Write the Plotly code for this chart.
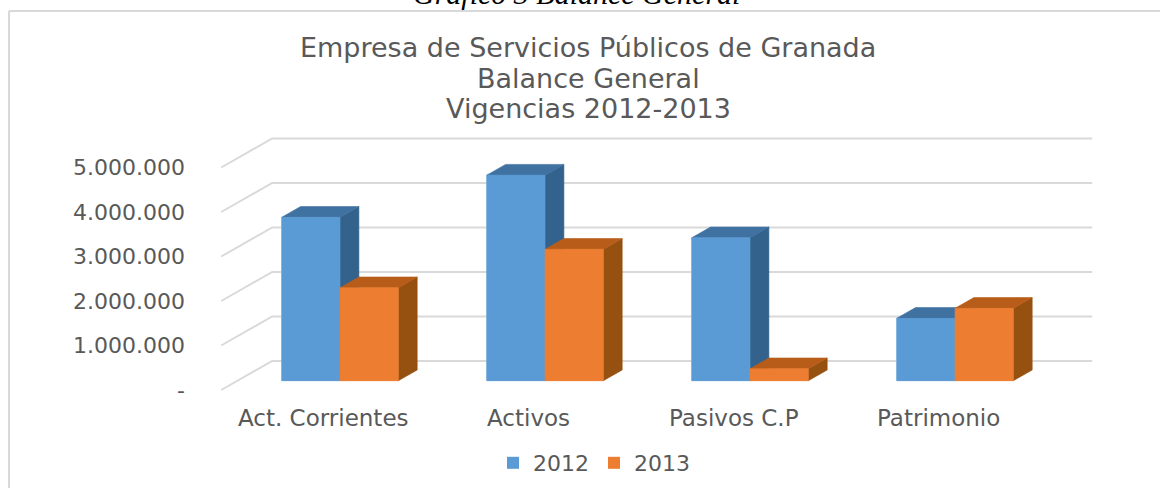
import plotly.graph_objects as go

# ---------------- data ----------------
categories = ["Act. Corrientes", "Activos", "Pasivos C.P", "Patrimonio"]
series_names = ["2012", "2013"]
values_2012 = [3672000, 4620000, 3213000, 1402000]
values_2013 = [2090000, 2953000, 270000, 1627000]
tick_values = [0, 1000000, 2000000, 3000000, 4000000, 5000000]
tick_labels = ["-", "1.000.000", "2.000.000", "3.000.000", "4.000.000", "5.000.000"]
title_lines = ["Empresa de Servicios Públicos de Granada", "Balance General", "Vigencias 2012-2013"]
caption = "Gráfico 3 Balance General"

# ---------------- geometry / style ----------------
W, H = 1160, 488
OFF = 0                # page body margin is removed by the post script below


def fx(px):            # page pixel x -> paper fraction
    return (px - OFF) / W


def fy(py):            # page pixel y -> paper fraction
    return 1 - (py - OFF) / H


PX_PER_CAT = 205.0
PX_PER_UNIT = 44.5e-6
X0_PX = 323.7 - OFF    # figure pixel of category 0 on the front plane
Y0_PX = 390.0 - OFF    # figure pixel of value 0 on the front plane
x_range = [(0 - X0_PX) / PX_PER_CAT, (W - X0_PX) / PX_PER_CAT]
y_range = [(Y0_PX - H) / PX_PER_UNIT, (Y0_PX - 0) / PX_PER_UNIT]

DEPTH_DX = 51 / PX_PER_CAT      # full floor depth, in data units
DEPTH_DY = 29 / PX_PER_UNIT
D_FRONT, D_BACK = 0.32, 0.69
BAR_W = 58.3 / PX_PER_CAT
FLOOR_L, FLOOR_R = -0.5, len(categories) - 0.5

COLORS = {
    "2012": {"front": "#5B9BD5", "top": "#3F71A1", "side": "#33628C"},
    "2013": {"front": "#ED7D31", "top": "#B85D19", "side": "#96500F"},
}
GRID = "#D9D9D9"
TEXT = "#595959"
FONT = "DejaVu Sans"


def proj(x, v, d):
    return x + d * DEPTH_DX, v + d * DEPTH_DY


def poly(points):
    xs, ys = [], []
    for (x, v, d) in points:
        px, py = proj(x, v, d)
        xs.append(px)
        ys.append(py)
    xs.append(xs[0])
    ys.append(ys[0])
    return xs, ys


fig = go.Figure()

# legend-carrying front faces (bar traces)
for name, vals, sign in [("2012", values_2012, -1), ("2013", values_2013, 1)]:
    xs = [i + D_FRONT * DEPTH_DX + sign * BAR_W / 2 for i in range(len(categories))]
    fig.add_trace(go.Bar(
        x=xs, y=vals, base=D_FRONT * DEPTH_DY, width=BAR_W, name=name,
        marker=dict(color=COLORS[name]["front"], line=dict(width=0)),
        hoverinfo="skip",
    ))

# back wall gridlines with slanted floor lines
for v in tick_values:
    p1 = proj(FLOOR_L, v, 0)
    p2 = proj(FLOOR_L, v, 1)
    p3 = proj(FLOOR_R, v, 1)
    fig.add_trace(go.Scatter(
        x=[p1[0], p2[0], p3[0]], y=[p1[1], p2[1], p3[1]], mode="lines",
        line=dict(color=GRID, width=2), showlegend=False, hoverinfo="skip",
    ))

# 3D faces drawn back-to-front
for i in range(len(categories)):
    for name, vals, sign in [("2012", values_2012, -1), ("2013", values_2013, 1)]:
        v = vals[i]
        xc = i + sign * BAR_W / 2
        xl, xr = xc - BAR_W / 2, xc + BAR_W / 2
        faces = [
            ("side", [(xr, 0, D_FRONT), (xr, 0, D_BACK), (xr, v, D_BACK), (xr, v, D_FRONT)]),
            ("top", [(xl, v, D_FRONT), (xr, v, D_FRONT), (xr, v, D_BACK), (xl, v, D_BACK)]),
            ("front", [(xl, 0, D_FRONT), (xr, 0, D_FRONT), (xr, v, D_FRONT), (xl, v, D_FRONT)]),
        ]
        for face, pts in faces:
            px_, py_ = poly(pts)
            col = COLORS[name][face]
            fig.add_trace(go.Scatter(
                x=px_, y=py_, mode="lines", fill="toself", fillcolor=col,
                line=dict(color=col, width=0.6), showlegend=False, hoverinfo="skip",
            ))

annotations = []
# value-axis labels on the front plane
for v, t in zip(tick_values, tick_labels):
    annotations.append(dict(
        x=FLOOR_L, y=v, xref="x", yref="y", text=t, showarrow=False,
        xanchor="right", yanchor="middle", xshift=-34,
        font=dict(family=FONT, size=22, color=TEXT),
    ))
# category labels
for i, c in enumerate(categories):
    annotations.append(dict(
        x=i, y=0, xref="x", yref="y", text=c, showarrow=False,
        xanchor="center", yanchor="middle", yshift=-28,
        font=dict(family=FONT, size=23, color=TEXT),
    ))
# chart title, three lines
for line, py in zip(title_lines, [47, 78, 108]):
    annotations.append(dict(
        x=fx(588), y=fy(py), xref="paper", yref="paper", text=line, showarrow=False,
        xanchor="center", yanchor="middle",
        font=dict(family=FONT, size=27, color=TEXT),
    ))
# caption above the chart box (cut off by the page edge, as in the source)
annotations.append(dict(
    x=fx(576), y=fy(-6), xref="paper", yref="paper",
    text="<i>" + caption + "</i>", showarrow=False,
    xanchor="center", yanchor="middle",
    font=dict(family="Liberation Serif", size=30, color="#000000"),
))

shapes = [
    dict(type="line", xref="paper", yref="paper", x0=fx(9), x1=fx(9), y0=fy(11), y1=-0.05,
         line=dict(color=GRID, width=2)),
    dict(type="line", xref="paper", yref="paper", x0=fx(9), x1=1.05, y0=fy(11), y1=fy(11),
         line=dict(color=GRID, width=2)),
]

fig.update_layout(
    width=W, height=H, autosize=False,
    margin=dict(l=0, r=0, t=0, b=0, pad=0),
    paper_bgcolor="white", plot_bgcolor="white",
    barmode="overlay",
    xaxis=dict(range=x_range, visible=False, fixedrange=True),
    yaxis=dict(range=y_range, visible=False, fixedrange=True),
    legend=dict(
        orientation="h", x=fx(594), xanchor="center", y=fy(463), yanchor="middle",
        font=dict(family=FONT, size=22, color=TEXT), bgcolor="rgba(0,0,0,0)",
        itemclick=False, itemdoubleclick=False,
    ),
    annotations=annotations,
    shapes=shapes,
    showlegend=True,
)

fig.write_html("out.html", config={"displayModeBar": False},
               post_script="document.body.style.margin='0';")
